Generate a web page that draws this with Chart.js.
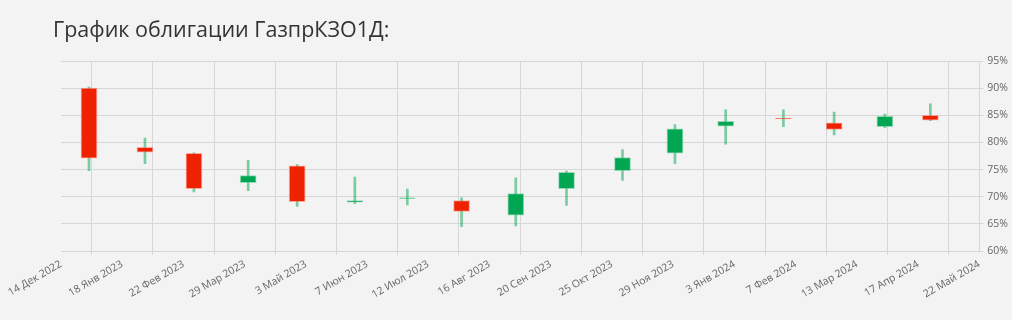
<!DOCTYPE html>
<html>
<head>
<meta charset="utf-8">
<script src="https://cdn.jsdelivr.net/npm/chart.js@4"></script>
<style>
  body { margin: 0; background: #f3f3f3; }
  #wrap { position: relative; width: 1012px; height: 320px; }
  #title { position: absolute; left: 53px; top: 14px; font: 21.5px "Open Sans", sans-serif; color: #333; }
  #box { position: absolute; left: 0; top: 0; width: 1012px; height: 320px; }
</style>
</head>
<body>
<div id="wrap">
  <div id="box"><canvas id="candles"></canvas></div>
  <div id="title">График облигации ГазпрКЗО1Д:</div>
</div>
<script>
// month candles (last trading day of each month)
var dates = ['2022-12-30', '2023-01-31', '2023-02-28', '2023-03-31', '2023-04-28', '2023-05-31',
  '2023-06-30', '2023-07-31', '2023-08-31', '2023-09-29', '2023-10-31', '2023-11-30',
  '2023-12-29', '2024-01-31', '2024-02-29', '2024-03-29', '2024-04-24'];
var open  = [90.0, 79.1, 78.0, 72.6, 75.7, 69.0, 69.7, 69.3, 66.6, 71.5, 74.8, 78.0, 83.0, 84.45, 83.6, 82.9, 85.0];
var high  = [90.2, 80.8, 78.1, 76.7, 75.9, 73.6, 71.4, 69.8, 73.5, 74.7, 78.7, 83.3, 86.0, 86.0, 85.6, 85.2, 87.1];
var low   = [74.8, 76.1, 70.9, 71.1, 68.2, 68.7, 68.5, 64.5, 64.6, 68.4, 73.0, 76.1, 79.7, 82.9, 81.4, 82.7, 84.0];
var close = [77.1, 78.2, 71.5, 73.9, 69.1, 69.3, 69.8, 67.3, 70.6, 74.5, 77.2, 82.5, 83.9, 84.35, 82.4, 84.8, 84.1];

var monthNames = ['Янв', 'Фев', 'Мар', 'Апр', 'Май', 'Июн', 'Июл', 'Авг', 'Сен', 'Окт', 'Ноя', 'Дек'];
var axisStart = '2022-12-14';   // first tick, then every 35 days
var axisDays = 525;
var tickStep = 35;
var yMin = 60, yMax = 95, yStep = 5;

var DAY = 86400000;
var t0 = Date.parse(axisStart + 'T00:00:00Z');
function dayOf(s) { return Math.round((Date.parse(s + 'T00:00:00Z') - t0) / DAY); }
function fmtDay(v) {
  var d = new Date(t0 + v * DAY);
  return d.getUTCDate() + ' ' + monthNames[d.getUTCMonth()] + ' ' + d.getUTCFullYear();
}

var bodies = [], wicks = [], bodyColor = [], bodyBorder = [];
for (var i = 0; i < dates.length; i++) {
  var x = dayOf(dates[i]);
  bodies.push({ x: x, y: [open[i], close[i]] });
  wicks.push({ x: x, y: [low[i], high[i]] });
  if (close[i] < open[i]) {
    bodyColor.push('#ee2200');
    bodyBorder.push('rgba(255,110,90,0.55)');
  } else {
    bodyColor.push('#00a651');
    bodyBorder.push('rgba(90,200,140,0.6)');
  }
}

var chart = new Chart(document.getElementById('candles'), {
  type: 'bar',
  data: {
    datasets: [{
      label: 'body',
      data: bodies,
      backgroundColor: bodyColor,
      borderColor: bodyBorder,
      borderWidth: 1,
      borderSkipped: false,
      barThickness: 16,
      grouped: false,
      order: 0
    }, {
      label: 'wick',
      data: wicks,
      backgroundColor: 'rgba(0,166,81,0.5)',
      borderWidth: 0,
      barThickness: 2,
      grouped: false,
      order: 1
    }]
  },
  options: {
    responsive: true,
    maintainAspectRatio: false,
    animation: false,
    layout: { padding: { top: 61, left: 61, right: 0, bottom: 16 } },
    plugins: { legend: { display: false }, tooltip: { enabled: false } },
    scales: {
      x: {
        type: 'linear',
        min: 0,
        max: axisDays,
        offset: false,
        grid: { color: '#d6d6d6', tickLength: 4 },
        border: { color: '#d6d6d6' },
        ticks: {
          stepSize: tickStep,
          autoSkip: false,
          maxRotation: 30,
          minRotation: 30,
          color: '#666',
          font: { family: 'Open Sans', size: 10.5 },
          callback: function (v) { return fmtDay(v); }
        }
      },
      y: {
        position: 'right',
        min: yMin,
        max: yMax,
        grid: { color: '#d6d6d6', tickLength: 4 },
        border: { color: '#d6d6d6' },
        ticks: {
          stepSize: yStep,
          color: '#666',
          font: { family: 'Open Sans', size: 10.5 },
          padding: 4,
          callback: function (v) { return v + '%'; }
        }
      }
    }
  }
});
</script>
</body>
</html>
